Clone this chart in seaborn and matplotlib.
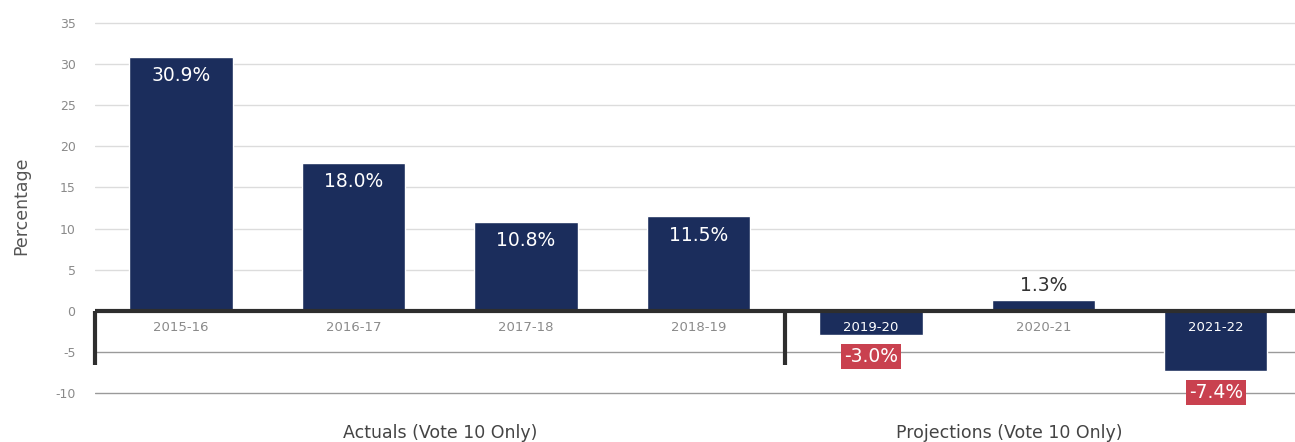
import matplotlib
matplotlib.use("Agg")
import matplotlib.pyplot as plt
import seaborn as sns
import pandas as pd

years = ["2015-16", "2016-17", "2017-18", "2018-19", "2019-20", "2020-21", "2021-22"]
values = [30.9, 18.0, 10.8, 11.5, -3.0, 1.3, -7.4]
value_labels = ["30.9%", "18.0%", "10.8%", "11.5%", "-3.0%", "1.3%", "-7.4%"]
yticks = [35, 30, 25, 20, 15, 10, 5, 0, -5, -10]
group_names = ["Actuals (Vote 10 Only)", "Projections (Vote 10 Only)"]

NAVY = "#1b2d5c"
RED = "#c9414f"
GRAY = "#8a8a8a"

sns.set_theme(style="white")
plt.rcParams["font.family"] = ["DejaVu Sans"]

df = pd.DataFrame({"year": years, "value": values})

fig = plt.figure(figsize=(12.95, 4.42), dpi=100)
ax = fig.add_axes([95 / 1295, 0.102, 1 - 95 / 1295, 0.864])

# grid lines
for t in yticks:
    if t == 0:
        continue
    ax.axhline(t, color="#dcdcdc" if t > 0 else "#9a9a9a", lw=1.0, zorder=0)

sns.barplot(data=df, x="year", y="value", color=NAVY, width=0.6, saturation=1, ax=ax, zorder=2)

ax.set_xlim(-0.5, 6.46)
ax.set_ylim(-10.5, 36)

# zero line and separators
ax.axhline(0, color="#2e2e2e", lw=3, zorder=3)
for xs in (-0.5, 3.5):
    ax.plot([xs, xs], [0, -6.6], color="#2e2e2e", lw=3, zorder=3, clip_on=False, solid_capstyle="butt")

for s in ax.spines.values():
    s.set_visible(False)

ax.set_yticks(yticks)
ax.set_yticklabels([str(t) for t in yticks], color=GRAY, fontsize=9)
ax.tick_params(axis="y", length=0, pad=14)
ax.set_xticks([])
ax.set_xlabel("")
ax.set_ylabel("Percentage", fontsize=12.5, color="#555555", labelpad=18)

# category labels inside plot
for i, (yr, v) in enumerate(zip(years, values)):
    col = "white" if v < -2.5 else GRAY
    ax.text(i, -2.1, yr, ha="center", va="center", fontsize=9.5, color=col, zorder=4)

# value labels
for i, (v, lab) in enumerate(zip(values, value_labels)):
    if v >= 5:
        ax.text(i, v - 2.3, lab, ha="center", va="center", fontsize=13.5, color="white", zorder=4)
    elif v >= 0:
        ax.text(i, v + 1.8, lab, ha="center", va="center", fontsize=13.5, color="#333333", zorder=4)
    else:
        ax.text(i, v - 2.6, lab, ha="center", va="center", fontsize=13.5, color="white", zorder=4,
                bbox=dict(boxstyle="square,pad=0.15", fc=RED, ec="none"))

# group labels
ax.text(1.5, -14.9, group_names[0], ha="center", va="center", fontsize=12.5, color="#444444", clip_on=False)
ax.text(4.8, -14.9, group_names[1], ha="center", va="center", fontsize=12.5, color="#444444", clip_on=False)

fig.savefig("out.png", dpi=100)
